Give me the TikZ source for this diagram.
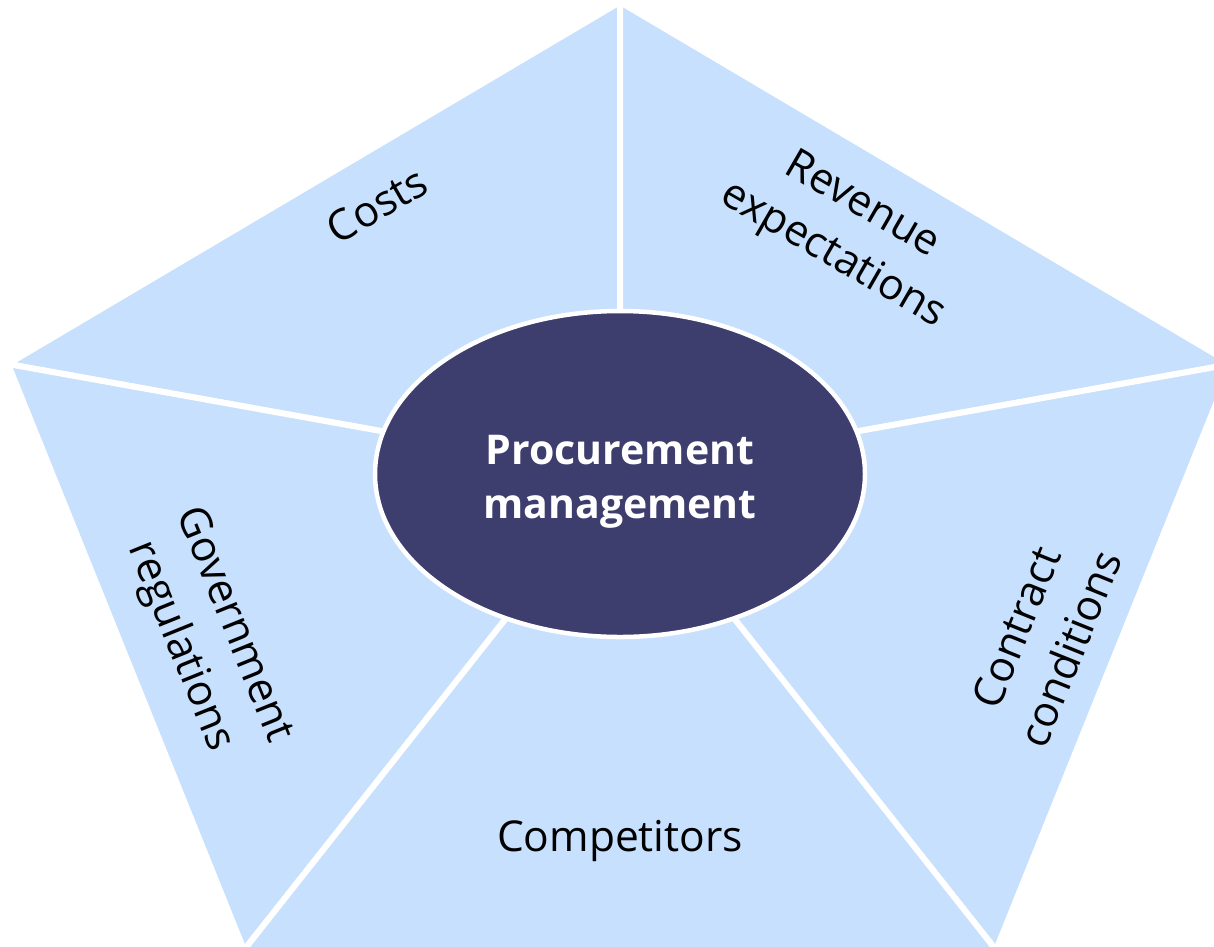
\documentclass[tikz,border=0pt]{standalone}
\usepackage{fontspec}
\setmainfont{Open Sans}
\usetikzlibrary{shapes.geometric}
\definecolor{segfill}{RGB}{199,224,253}
\definecolor{hubfill}{RGB}{61,61,110}
\begin{document}
\begin{tikzpicture}[x=1pt,y=-1pt,
  segment/.style={fill=segfill,draw=white,line width=6pt,line join=miter},
  seglabel/.style={align=center,font=\fontsize{42.5}{58}\selectfont,text=black,inner sep=0pt},
  hub/.style={ellipse,fill=hubfill,draw=white,line width=4.5pt,minimum width=490pt,minimum height=326pt,inner sep=0pt},
  hublabel/.style={align=center,font=\fontsize{41}{54}\selectfont\bfseries,text=white}]
\useasboundingbox (0,0) rectangle (1214,946);
\clip (0,0) rectangle (1214,946);
\coordinate (T) at (620,2);
\coordinate (L) at (8,364);
\coordinate (R) at (1232,364);
\coordinate (BL) at (244,950);
\coordinate (BR) at (996,950);
\coordinate (C) at (620,474);
\draw[segment] (T) -- (L) -- (C) -- cycle;
\draw[segment] (T) -- (R) -- (C) -- cycle;
\draw[segment] (L) -- (BL) -- (C) -- cycle;
\draw[segment] (R) -- (BR) -- (C) -- cycle;
\draw[segment] (BL) -- (BR) -- (C) -- cycle;
\node[hub] (hub) at (C) {};
\node[hublabel] (hubtext) at (620,482) {Procurement\\management};
\node[seglabel,rotate=30] (costs) at (377,205) {Costs};
\node[seglabel,rotate=-30] (revenue) at (847,231) {Revenue\\expectations};
\node[seglabel,rotate=68] (contract) at (1043,638) {Contract\\conditions};
\node[seglabel,rotate=-68] (govt) at (206,636) {Government\\regulations};
\node[seglabel] (comp) at (620,841) {Competitors};
\end{tikzpicture}
\end{document}
